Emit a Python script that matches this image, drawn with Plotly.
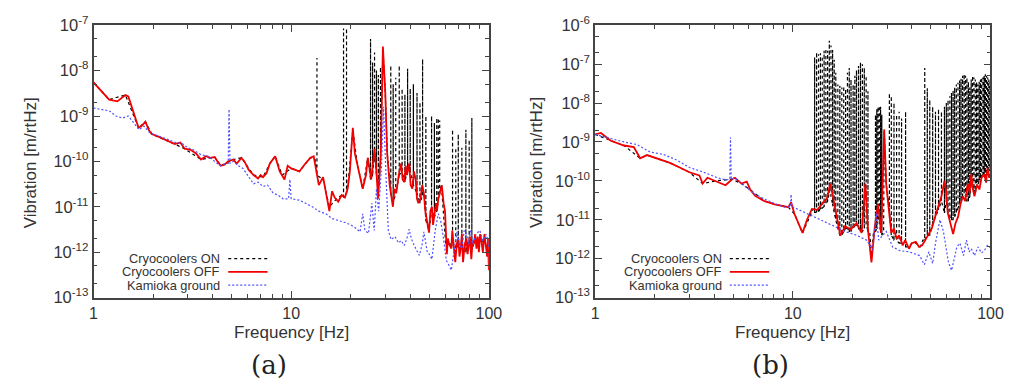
import plotly.graph_objects as go

W, H = 1032, 391

# ---------------- Panel (a) ----------------
off_a_f = [1.0, 1.1, 1.2, 1.32, 1.45, 1.5, 1.6, 1.69, 1.75, 1.83, 1.9, 1.97, 2.1, 2.3, 2.45, 2.58, 2.75, 2.89,
           3.1, 3.3, 3.5, 3.7, 3.9, 4.1, 4.24, 4.4, 4.6, 4.8, 5.1, 5.3, 5.6, 5.8, 6.1, 6.45, 6.8, 7.0, 7.2, 7.5,
           7.8, 8.3, 8.75, 9.0, 9.25, 9.6, 10.0, 10.5, 11.0, 11.8, 12.5, 13.0, 13.4, 13.8, 14.5, 15.0, 15.6,
           16.1, 16.6, 17.3, 18.0, 18.7, 19.3, 19.8, 20.5, 21.0, 21.8, 23.0, 23.9, 24.4, 25.4, 26.4, 27.0, 27.5,
           28.4, 29.1, 29.9, 30.6, 31.5, 32.0, 32.7, 33.3, 34.0, 35.0, 36.0, 36.6, 37.3, 38.0, 38.5, 39.5, 40.2,
           41.0, 41.8, 42.6, 43.3, 44.0, 45.1, 46.0, 46.9, 47.7, 48.5, 49.8, 50.6, 51.5, 52.2, 53.0, 54.0, 54.6,
           55.5, 56.5, 57.8, 59.0, 60.0, 61.3, 62.0, 63.0, 64.6, 65.3, 66.0, 67.6, 68.8, 70.1, 71.0, 72.0, 73.0,
           74.0, 75.5, 77.0, 78.0, 79.0, 80.2, 81.5, 82.8, 84.0, 85.2, 86.5, 87.8, 89.0, 90.3, 91.6, 93.2, 95.0,
           96.5, 98.0, 99.0, 100.0]
off_a_v = [5.5e-9, 3.5e-9, 2.3e-9, 2.1e-9, 2.9e-9, 2.7e-9, 1.2e-9, 5.5e-10, 6e-10, 7.5e-10, 5e-10, 4e-10, 3.6e-10,
           3e-10, 2.6e-10, 2.4e-10, 2.6e-10, 1.9e-10, 1.8e-10, 1.5e-10, 1.1e-10, 1.3e-10, 1.2e-10, 1.25e-10, 1.0e-10,
           8e-11, 8.5e-11, 1.0e-10, 1.1e-10, 9e-11, 1.2e-10, 1.0e-10, 6.5e-11, 5e-11, 4.2e-11, 5e-11, 4.5e-11, 5.5e-11,
           9e-11, 1.3e-10, 6e-11, 5e-11, 4e-11, 8e-11, 7e-11, 6.5e-11, 6e-11, 9e-11, 1.2e-10, 1.3e-10, 6e-11, 3e-11,
           4.5e-11, 2e-11, 8e-12, 2.2e-11, 1.6e-11, 1.3e-11, 1.8e-11, 1.6e-11, 2.5e-11, 6e-11, 5.5e-10, 1.5e-10, 7e-11,
           2.5e-11, 5e-11, 1.2e-10, 4e-11, 1.9e-10, 6e-11, 1.5e-11, 1.5e-10, 3.4e-8, 3.5e-9, 1.5e-10, 3e-11, 1.8e-11,
           1e-11, 2.5e-11, 2e-11, 5e-11, 9e-11, 4e-11, 3.5e-11, 8e-11, 5e-11, 9e-11, 3e-11, 2.5e-11, 6e-11, 4e-11,
           1.5e-11, 1.2e-11, 1.5e-11, 3e-11, 2e-11, 8e-12, 5e-12, 2.7e-12, 8e-12, 1e-11, 4e-12, 6e-12, 1.2e-11, 8e-12,
           1.5e-11, 2e-11, 3e-11, 1.2e-11, 8e-12, 9e-13, 2e-12, 1.5e-12, 1.2e-12, 3e-12, 2e-12, 6e-13, 1.5e-12, 2e-12,
           8e-13, 1.2e-12, 2.5e-12, 6e-13, 1.5e-12, 2e-12, 9e-13, 1.3e-12, 2.2e-12, 7e-13, 1.8e-12, 1.5e-12, 2.5e-12,
           1.2e-12, 2.2e-12, 1e-12, 2.5e-12, 1.8e-12, 1e-12, 2.5e-12, 1.5e-12, 8e-13, 2e-12, 4e-13]

gnd_a_f = [1.0, 1.1, 1.2, 1.3, 1.4, 1.5, 1.6, 1.7, 1.8, 1.9, 2.0, 2.2, 2.4, 2.6, 2.8, 3.0, 3.2, 3.5, 3.8, 4.1,
           4.4, 4.7, 4.8, 4.85, 4.9, 5.1, 5.4, 5.7, 6.1, 6.45, 6.8, 7.2, 7.6, 8.1, 8.6, 9.1, 9.7, 9.85, 10.0,
           11.0, 11.8, 12.8, 13.8, 15.0, 16.1, 17.4, 18.7, 20.0, 21.0, 22.3, 23.0, 23.6, 24.6, 25.6, 26.3, 27.0,
           27.7, 28.6, 29.3, 30.3, 31.0, 32.0, 33.5, 34.9, 36.0, 37.3, 38.5, 39.5, 40.5, 41.9, 43.0, 44.5, 46.0,
           46.9, 48.8, 50.0, 51.5, 53.5, 55.5, 57.0, 58.5, 60.0, 61.0, 63.0, 64.6, 66.5, 69.0, 71.0, 73.0, 75.0,
           77.0, 79.0, 81.0, 83.0, 86.0, 90.0, 93.0, 97.0, 100.0]
gnd_a_v = [1.5e-9, 1.4e-9, 1.3e-9, 1.0e-9, 9e-10, 1.0e-9, 7e-10, 5e-10, 6e-10, 4.5e-10, 4e-10, 3.5e-10, 3e-10, 2.6e-10,
           2.5e-10, 2e-10, 1.8e-10, 1.4e-10, 1.3e-10, 1.0e-10, 8e-11, 9e-11, 9e-11, 1.4e-9, 9e-11, 1e-10, 8e-11, 7e-11,
           4.5e-11, 3.2e-11, 3.5e-11, 2.8e-11, 3e-11, 2e-11, 1.8e-11, 1.5e-11, 1.5e-11, 4e-11, 1.5e-11, 1.4e-11,
           1.2e-11, 1e-11, 8e-12, 7e-12, 5.5e-12, 5e-12, 4.5e-12, 4e-12, 3.5e-12, 2.8e-12, 7e-12, 3e-12, 2.6e-12,
           1.2e-11, 3e-12, 2.5e-11, 8e-12, 7e-11, 1.6e-9, 3e-11, 3e-12, 1.9e-12, 2.2e-12, 1.6e-12, 1.8e-12, 1.4e-12,
           2e-12, 3.2e-12, 2e-12, 1.4e-12, 1.1e-12, 8.5e-13, 1.5e-12, 2.8e-12, 1e-12, 9e-13, 7e-13, 3e-12, 7e-12,
           5e-12, 2.5e-12, 1e-12, 6.5e-13, 5e-13, 4e-13, 1e-12, 2.8e-12, 1.5e-12, 1.2e-12, 3e-12, 2.5e-12, 1.5e-12,
           3e-12, 1.5e-12, 2.5e-12, 3e-12, 1.8e-12, 2.5e-12, 1.3e-12]

on_a_f = [1.0, 1.2, 1.45, 1.69, 1.83, 1.97, 2.58, 2.89, 3.5, 4.1, 4.4, 5.1, 5.6, 6.45, 7.2, 7.8, 8.3, 9.0, 10.0,
          11.0, 12.5, 13.2, 14.5, 15.6, 17.0, 18.0, 19.5, 20.5, 21.5, 23.0, 24.4, 29.1, 29.9, 30.6, 31.5, 47.0,
          49.8, 57.5, 58.5, 60.5, 63.0, 67.0, 71.5, 74.5, 78.0, 80.5, 84.0, 88.0, 92.0, 96.0, 100.0]
on_a_v = [5.5e-9, 2.3e-9, 2.9e-9, 5.5e-10, 7.5e-10, 4e-10, 2.4e-10, 1.9e-10, 1.1e-10, 1.25e-10, 8e-11, 1.1e-10,
          1.2e-10, 5e-11, 4.5e-11, 9e-11, 1.3e-10, 5e-11, 7e-11, 6e-11, 1.2e-10, 1.1e-10, 4e-11, 1e-11, 1.5e-11,
          1.8e-11, 4e-11, 5e-10, 1e-10, 2.5e-11, 1.2e-10, 3e-8, 3.5e-9, 1.5e-10, 3e-11, 2e-11, 3e-12, 3e-11,
          1.2e-11, 1.5e-12, 1.5e-12, 1.2e-12, 1.5e-12, 1e-12, 1.8e-12, 1.2e-12, 1.5e-12, 1.5e-12, 1.8e-12,
          1.5e-12, 1e-12]
on_a_spike_f = [13.5, 18.4, 19.05, 25.2, 25.8, 26.4, 27.0, 27.6, 28.3, 31.9, 32.8, 33.8, 35.2, 36.4, 37.6, 38.8,
                40.0, 41.5, 43.3, 44.8, 46.2, 48.0, 51.3, 53.0, 54.5, 55.5, 56.4, 65.5, 68.0, 70.0, 73.0, 76.5,
                79.5, 82.0]
on_a_spike_lo = [5e-11, 1.6e-11, 2e-11, 4e-11, 5e-11, 1.5e-10, 5e-11, 2e-11, 1e-10, 2e-11, 1.2e-11, 2e-11, 5e-11,
                 6e-11, 3.5e-11, 7e-11, 6e-11, 3e-11, 2e-11, 1.2e-11, 1.8e-11, 5e-12, 8e-12, 6e-12, 8e-12, 1.5e-11,
                 2e-11, 1.5e-12, 1e-12, 1.5e-12, 1.2e-12, 1e-12, 1.5e-12, 1.2e-12]
on_a_spike_hi = [1.9e-8, 8.5e-8, 8.5e-8, 5e-8, 1.5e-8, 2.5e-8, 1e-8, 8e-9, 1.2e-8, 1.3e-8, 5e-9, 7e-9, 1.3e-8,
                 4e-9, 3e-9, 1.1e-8, 4e-9, 5e-9, 3.2e-9, 2e-9, 1.8e-8, 1e-9, 1e-9, 7e-10, 9e-10, 9e-10, 8e-10,
                 5e-10, 2e-10, 4e-10, 2e-10, 5e-10, 3e-10, 9e-10]

# ---------------- Panel (b) ----------------
off_b_f = [1.0, 1.07, 1.2, 1.4, 1.57, 1.69, 1.83, 2.05, 2.39, 2.68, 3.0, 3.37, 3.5, 3.7, 4.07, 4.57, 4.93, 5.1,
           5.5, 5.85, 6.1, 6.45, 7.2, 8.1, 9.5, 9.8, 10.2, 11.0, 11.2, 11.8, 12.5, 13.3, 14.1, 14.9, 15.5, 16.1,
           16.7, 17.4, 18.4, 19.6, 21.0, 22.3, 23.3, 24.0, 25.0, 26.0, 27.0, 28.0, 29.0, 29.7, 30.3, 31.0, 31.5,
           32.5, 33.5, 34.5, 35.5, 36.0, 37.0, 38.7, 40.0, 41.9, 43.5, 45.1, 46.8, 48.5, 50.5, 52.5, 54.6, 56.5,
           58.5, 59.5, 60.8, 62.5, 64.7, 66.5, 68.6, 70.5, 72.6, 74.5, 76.8, 78.5, 80.0, 81.5, 83.0, 85.5, 87.9,
           90.0, 93.0, 95.0, 96.6, 98.5, 100.0]
off_b_v = [1.56e-9, 1.7e-9, 1.07e-9, 8.1e-10, 7.4e-10, 3.8e-10, 4.6e-10, 3.8e-10, 2.9e-10, 2.2e-10, 1.66e-10,
           1.38e-10, 8.5e-11, 1.2e-10, 1.0e-10, 7.7e-11, 1.1e-10, 1.2e-10, 8.5e-11, 9.5e-11, 5.9e-11, 4.1e-11,
           3e-11, 2.5e-11, 2.1e-11, 2.8e-11, 1.4e-11, 5.6e-12, 4.6e-12, 1e-11, 1.9e-11, 1.8e-11, 2.5e-11, 3.6e-11,
           8.5e-11, 3e-11, 1e-11, 3.9e-12, 6.8e-12, 5.6e-12, 8.1e-12, 4.6e-12, 8.5e-11, 5.6e-12, 8e-13, 6.8e-12,
           2.5e-11, 4.6e-12, 2.1e-9, 8e-11, 3e-11, 8e-12, 4.6e-12, 6e-12, 3.2e-12, 4e-12, 2.5e-12, 2.2e-12, 3e-12,
           1.8e-12, 2.5e-12, 2.7e-12, 2e-12, 2.2e-12, 3e-12, 4e-12, 6e-12, 1.2e-11, 2.3e-11, 4e-11, 1e-10, 6e-11,
           1.5e-11, 8e-12, 4.3e-12, 8e-12, 1.2e-11, 2.5e-11, 4e-11, 3e-11, 8.5e-11, 5e-11, 1.5e-10, 6e-11, 4e-11,
           8e-11, 6e-11, 1.2e-10, 1.5e-10, 9e-11, 2.2e-10, 1.2e-10, 1.5e-10]

gnd_b_f = [1.0, 1.2, 1.4, 1.63, 1.9, 2.21, 2.6, 3.0, 3.5, 4.07, 4.57, 4.8, 4.84, 4.88, 5.1, 5.6, 6.45, 7.2, 8.1,
           9.1, 9.75, 9.8, 9.9, 11.0, 12.3, 13.8, 16.1, 18.8, 21.0, 23.6, 25.4, 26.4, 27.2, 29.7, 32.0, 34.9,
           38.7, 43.8, 46.3, 48.8, 51.0, 52.7, 55.5, 57.8, 61.3, 63.6, 67.6, 70.1, 73.0, 75.6, 78.0, 80.0, 83.0,
           86.5, 90.0, 93.0, 96.5, 100.0]
gnd_b_v = [1.56e-9, 1.2e-9, 1.0e-9, 8.5e-10, 5.5e-10, 4.8e-10, 3.4e-10, 2.2e-10, 1.7e-10, 1.25e-10, 1.05e-10, 1.1e-10,
           1.3e-9, 1.1e-10, 1.2e-10, 8e-11, 4.5e-11, 3.4e-11, 2.6e-11, 2.1e-11, 2.2e-11, 4.5e-11, 2.2e-11, 1.7e-11,
           1.3e-11, 1e-11, 7e-12, 4.8e-12, 4e-12, 3e-12, 1.7e-12, 1.5e-11, 3e-12, 5e-12, 2e-12, 1.6e-12, 1.5e-12,
           1.2e-12, 7e-13, 1.5e-12, 7.5e-13, 2.5e-12, 1e-11, 5e-12, 8e-13, 5e-13, 2e-12, 2.5e-12, 1.2e-12, 3e-12,
           1.5e-12, 1.8e-12, 1.2e-12, 2e-12, 1.4e-12, 1.6e-12, 2.2e-12, 1.9e-12]

on_b_f = [1.0, 1.2, 1.4, 1.69, 1.83, 2.05, 2.39, 3.0, 3.5, 4.07, 4.93, 5.5, 6.1, 7.2, 8.1, 9.5, 10.2, 11.2, 12.0,
          12.7, 24.5, 25.0, 25.6, 28.8, 29.0, 29.7, 30.3, 38.5, 40.0, 42.0, 44.0, 45.5, 100.0]
on_b_v = [1.56e-9, 1.07e-9, 8.1e-10, 3.8e-10, 4.6e-10, 3.8e-10, 2.9e-10, 1.66e-10, 8.5e-11, 1.0e-10, 1.1e-10,
          8.5e-11, 5.9e-11, 3e-11, 2.5e-11, 2.1e-11, 1.4e-11, 4.6e-12, 1e-11, 1.9e-11, 5e-12, 1e-12, 5e-12, 5e-12,
          2e-9, 8e-11, 3e-11, 2e-12, 2.5e-12, 2.5e-12, 2e-12, 3e-12, 1.5e-10]
on_b_spike_f = [12.9, 13.2, 13.5, 13.8, 14.1, 14.4, 14.7, 15.0, 15.3, 15.6, 15.9, 16.2, 16.5,
                16.9, 17.3, 17.7, 18.1, 18.5, 18.9, 19.3, 19.7,
                20.2, 20.6, 21.0, 21.5, 22.0, 22.5, 23.0, 23.5, 24.0,
                26.2, 26.6, 27.0, 27.4, 27.8, 28.2,
                30.8, 31.5, 32.5, 33.5, 34.5, 35.5, 37.2,
                46.5, 47.9, 49.3, 51.0, 52.7, 54.6, 56.5,
                58.5, 59.8, 61.0, 62.3, 63.5, 64.7, 65.9, 67.2, 68.5, 69.8, 71.0, 72.3, 73.6, 74.8, 76.0, 77.3,
                78.6, 79.9, 81.2, 82.5, 83.8, 85.1, 86.4, 87.7, 89.0, 90.3, 91.6, 92.9, 94.2, 95.5, 96.8, 98.1,
                99.4]
on_b_spike_lo = [1.5e-11, 1.6e-11, 1.5e-11, 2e-11, 2e-11, 2.2e-11, 2.5e-11, 3e-11, 5e-11, 4e-11, 2.5e-11, 1.5e-11,
                 1e-11,
                 6e-12, 4e-12, 4e-12, 5e-12, 6e-12, 6e-12, 5e-12, 5e-12,
                 6e-12, 7e-12, 7e-12, 6e-12, 5e-12, 5e-12, 6e-12, 8e-12, 5e-12,
                 5e-12, 6e-12, 1.5e-11, 8e-12, 5e-12, 4e-12,
                 2e-11, 4e-12, 3e-12, 3e-12, 2.5e-12, 2.5e-12, 2e-12,
                 3e-12, 4e-12, 4e-12, 8e-12, 1.2e-11, 1.8e-11, 3e-11,
                 1.5e-11, 3e-11, 1.5e-11, 1.2e-11, 1e-11, 1e-11, 1.2e-11, 1.5e-11, 2e-11, 2.5e-11, 3e-11, 4e-11,
                 5e-11, 4e-11, 3e-11, 3e-11, 4e-11, 8e-11, 1e-10, 6e-11, 5e-11, 7e-11, 8e-11, 1e-10, 9e-11,
                 1.2e-10, 1.3e-10, 1.5e-10, 1.3e-10, 1.6e-10, 1.8e-10, 2e-10, 1.8e-10]
on_b_spike_hi = [1.5e-7, 2e-7, 1.8e-7, 1.9e-7, 1.6e-7, 2.2e-7, 2.5e-7, 2.2e-7, 4e-7, 3e-7, 2.3e-7, 1.3e-7, 6e-8,
                 3e-8, 2.8e-8, 2.5e-8, 2.7e-8, 2.3e-8, 6e-8, 8e-8, 4e-8,
                 3e-8, 5e-8, 7e-8, 9e-8, 1.1e-7, 1e-7, 8e-8, 5e-8, 2e-8,
                 5e-9, 7e-9, 8e-9, 8.5e-9, 8e-9, 5e-9,
                 1.8e-8, 1.5e-8, 1e-8, 5e-9, 6e-9, 4e-9, 6e-9,
                 8e-8, 2.4e-8, 1.2e-8, 8e-9, 6e-9, 7e-9, 6e-9,
                 8e-9, 1e-8, 1.2e-8, 1.5e-8, 1.8e-8, 2.1e-8, 2.5e-8, 3e-8, 3.3e-8, 3.8e-8, 4.2e-8, 5e-8, 5.5e-8,
                 5e-8, 4.5e-8, 3.5e-8, 2.5e-8, 4e-8, 5e-8, 4.5e-8, 4e-8, 3.5e-8, 3e-8, 3.5e-8, 4e-8, 4.5e-8,
                 4.5e-8, 5e-8, 5.5e-8, 5e-8, 4.5e-8, 4e-8, 3.5e-8]

# axis ticks
x_tickvals = [1, 10, 100]
x_ticktext = ["1", "10", "100"]
y_exp_a = [-13, -12, -11, -10, -9, -8, -7]
y_exp_b = [-13, -12, -11, -10, -9, -8, -7, -6]

legend_names = ["Cryocoolers ON", "Cryocoolers OFF", "Kamioka ground"]
panel_labels = ["(a)", "(b)"]


def merge_spikes(base_f, base_v, sf, slo, shi):
    pts = [(f, 0, v) for f, v in zip(base_f, base_v)]
    for f, lo, hi in zip(sf, slo, shi):
        pts += [(f, 1, lo), (f, 2, hi), (f, 3, lo)]
    pts.sort(key=lambda p: (p[0], p[1]))
    return [p[0] for p in pts], [p[2] for p in pts]


on_a_x, on_a_y = merge_spikes(on_a_f, on_a_v, on_a_spike_f, on_a_spike_lo, on_a_spike_hi)
on_b_x, on_b_y = merge_spikes(on_b_f, on_b_v, on_b_spike_f, on_b_spike_lo, on_b_spike_hi)

BLACK = dict(color="black", width=1.2, dash="3px,3px")
RED = dict(color="rgb(240,0,0)", width=1.8)
BLUE = dict(color="rgb(80,80,255)", width=1.2, dash="2px,2px")

fig = go.Figure()
fig.add_trace(go.Scatter(x=on_a_x, y=on_a_y, mode="lines", line=BLACK, xaxis="x", yaxis="y", showlegend=False))
fig.add_trace(go.Scatter(x=off_a_f, y=off_a_v, mode="lines", line=RED, xaxis="x", yaxis="y", showlegend=False))
fig.add_trace(go.Scatter(x=gnd_a_f, y=gnd_a_v, mode="lines", line=BLUE, xaxis="x", yaxis="y", showlegend=False))
fig.add_trace(go.Scatter(x=on_b_x, y=on_b_y, mode="lines", line=BLACK, xaxis="x2", yaxis="y2", showlegend=False))
fig.add_trace(go.Scatter(x=off_b_f, y=off_b_v, mode="lines", line=RED, xaxis="x2", yaxis="y2", showlegend=False))
fig.add_trace(go.Scatter(x=gnd_b_f, y=gnd_b_v, mode="lines", line=BLUE, xaxis="x2", yaxis="y2", showlegend=False))


def px(x):
    return x / W


def py(y):
    return 1 - y / H


FONT = "Liberation Sans, Arial, Helvetica, sans-serif"
TXT = "#333333"
AX = "#444444"

common_x = dict(type="log", range=[0, 2], tickvals=x_tickvals, ticktext=x_ticktext, ticks="inside", ticklen=7,
                tickwidth=1, tickcolor=AX, showline=True, linecolor=AX, linewidth=1.5, mirror="allticks",
                showgrid=False, zeroline=False, tickfont=dict(family=FONT, size=16, color=TXT),
                minor=dict(ticks="inside", ticklen=4, tickcolor=AX, dtick="D1", showgrid=False))


def yax(exps, dom):
    return dict(type="log", range=[exps[0], exps[-1]], tickvals=[10.0 ** e for e in exps],
                ticktext=["10<sup>%d</sup>" % e for e in exps], ticks="inside", ticklen=7, tickwidth=1,
                tickcolor=AX, showline=True, linecolor=AX, linewidth=1.5, mirror="allticks", showgrid=False,
                zeroline=False, tickfont=dict(family=FONT, size=16.5, color=TXT), domain=dom,
                minor=dict(ticks="inside", ticklen=4, tickcolor=AX, dtick="D2", showgrid=False))


ydom = [py(302), py(15)]
fig.update_layout(
    width=W, height=H, margin=dict(l=0, r=0, t=0, b=0), paper_bgcolor="white", plot_bgcolor="white",
    xaxis=dict(common_x, domain=[px(91), px(493)], anchor="y"),
    yaxis=dict(yax(y_exp_a, ydom), anchor="x"),
    xaxis2=dict(common_x, domain=[px(601), px(1003)], anchor="y2"),
    yaxis2=dict(yax(y_exp_b, ydom), anchor="x2"),
)

ann = []
shapes = []
for k, x0 in enumerate([0, 510]):
    ann.append(dict(x=px(x0 + 292), y=py(339), xref="paper", yref="paper", text="Frequency [Hz]", showarrow=False,
                    font=dict(family=FONT, size=17, color=TXT), xanchor="center", yanchor="middle",
                    borderpad=0))
    ann.append(dict(x=px(x0 + 27 + (5 if k else 0)), y=py(160), xref="paper", yref="paper",
                    text="Vibration [m/rtHz]", showarrow=False, textangle=-90,
                    font=dict(family=FONT, size=17, color=TXT), xanchor="center", yanchor="middle"))
    ann.append(dict(x=px(x0 + 269), y=py(373), xref="paper", yref="paper", text=panel_labels[k], showarrow=False,
                    font=dict(family="DejaVu Serif, serif", size=26, color="#222222"), xanchor="center",
                    yanchor="middle"))
    for j, (name, st) in enumerate(zip(legend_names, [BLACK, RED, BLUE])):
        yy = 261 + 14 * j
        ann.append(dict(x=px(x0 + 221), y=py(yy), xref="paper", yref="paper", text=name, showarrow=False,
                        font=dict(family=FONT, size=12.8, color=TXT), xanchor="right", yanchor="middle",
                        borderpad=0))
        shapes.append(dict(type="line", xref="paper", yref="paper", x0=px(x0 + 228), x1=px(x0 + 268),
                           y0=py(yy), y1=py(yy), line=st))

fig.update_layout(annotations=ann, shapes=shapes)
fig.write_html("out.html")
